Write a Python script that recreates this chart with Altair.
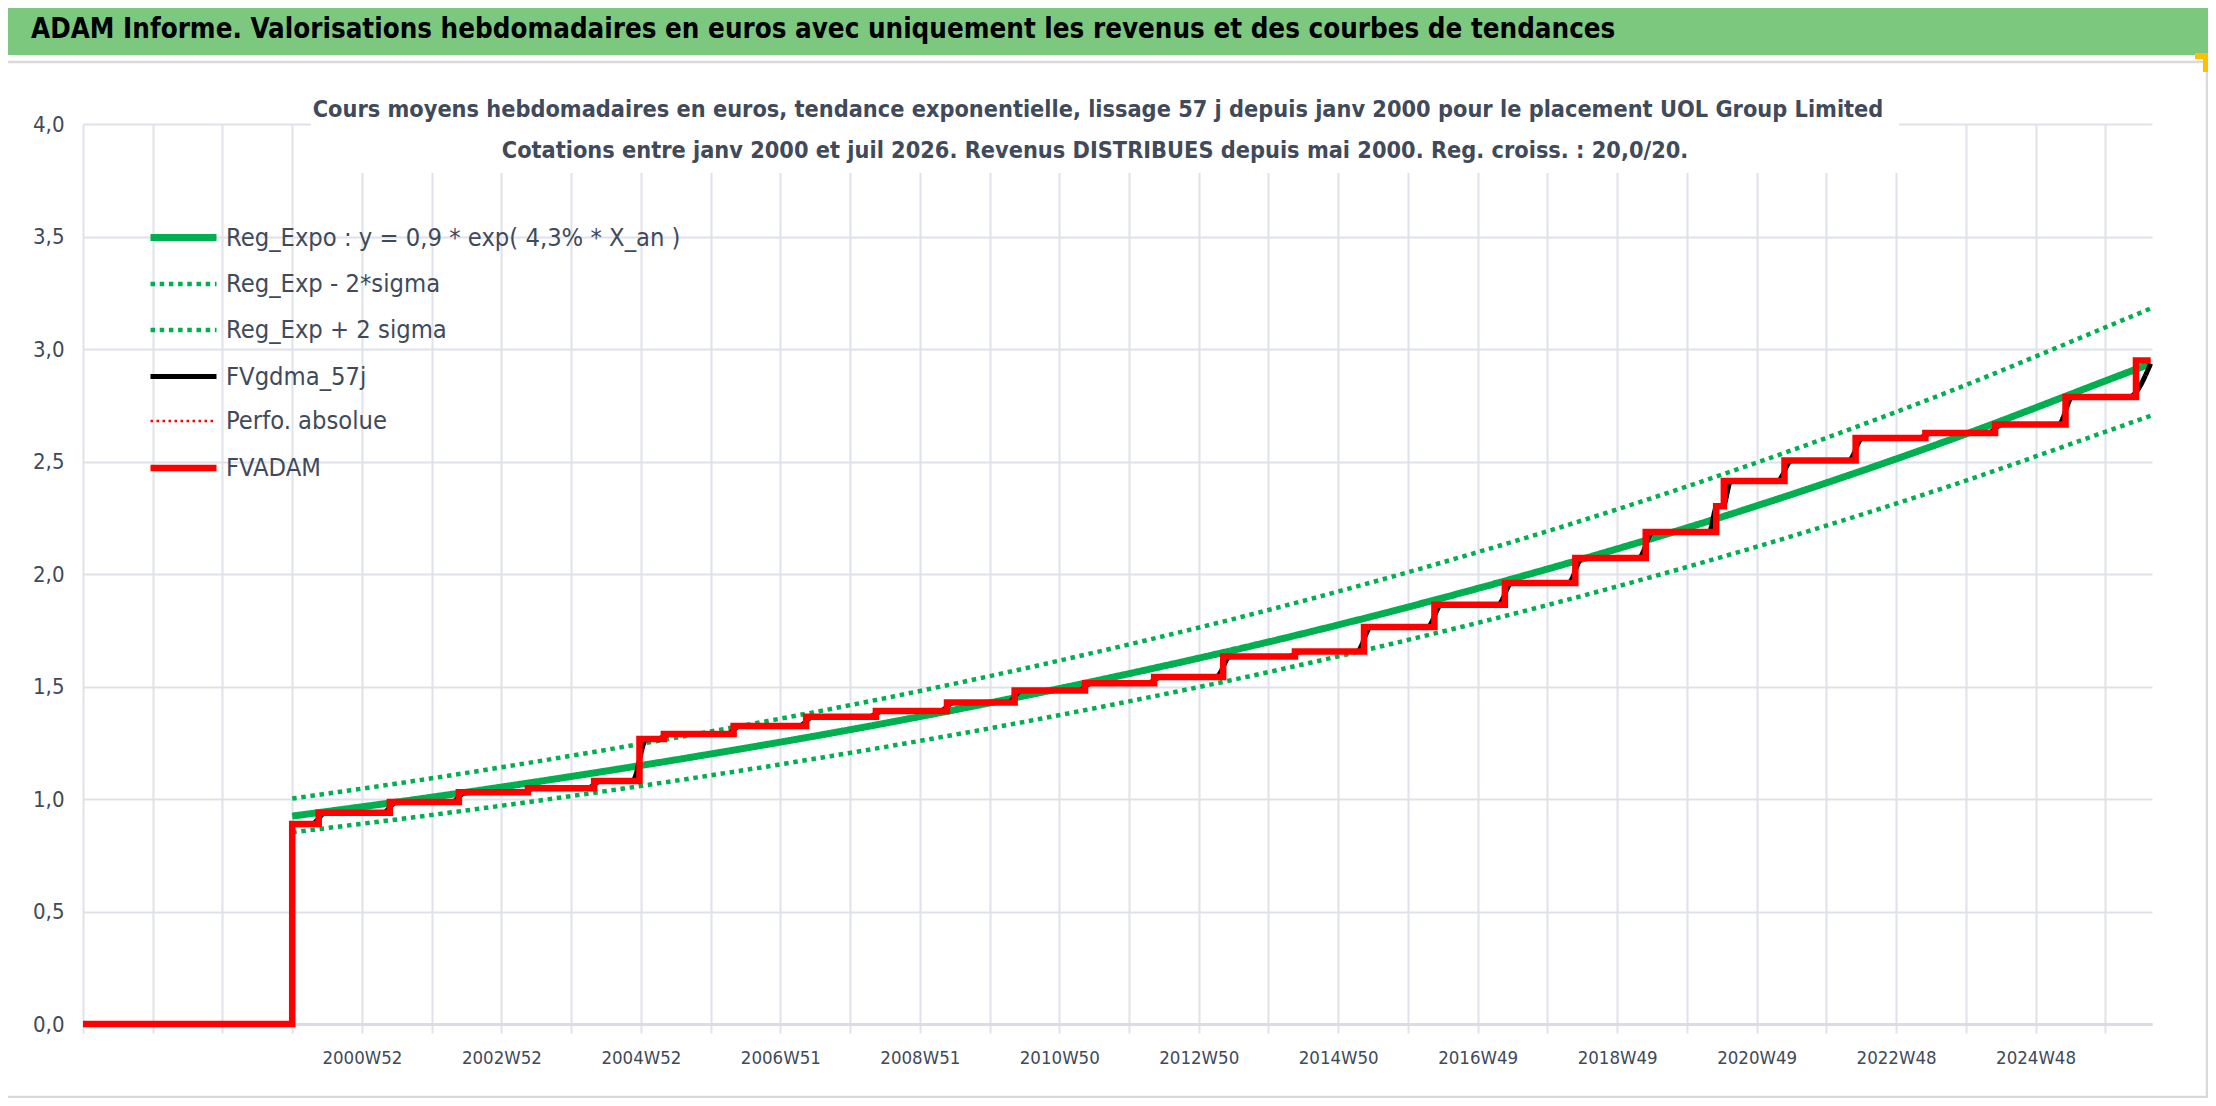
import altair as alt
import pandas as pd

# ---------------- data (x in fractional years) ----------------
step_years = [1997.0, 2000.0, 2000.38, 2001.40, 2002.39, 2003.38, 2004.33, 2004.98,
              2005.33, 2006.33, 2007.37, 2008.37, 2009.39, 2010.36, 2011.37, 2012.36,
              2013.35, 2014.38, 2015.37, 2016.38, 2017.39, 2018.40, 2019.41, 2020.42,
              2020.53, 2021.40, 2022.42, 2023.42, 2024.42, 2025.43, 2026.44]
step_levels = [0.0, 0.889, 0.939, 0.987, 1.030, 1.048, 1.080, 1.267,
               1.289, 1.325, 1.366, 1.391, 1.429, 1.482, 1.515, 1.542,
               1.633, 1.656, 1.764, 1.863, 1.960, 2.071, 2.187, 2.301,
               2.413, 2.504, 2.605, 2.627, 2.664, 2.787, 2.949]
end_year = 2026.65
smooth_end_value = 2.935

reg_years = [2000, 2002, 2004, 2006, 2008, 2010, 2012, 2014, 2016, 2018, 2020, 2022, 2024, 2026, 2026.65]
reg_vals = [0.924, 1.008, 1.100, 1.200, 1.308, 1.427, 1.557, 1.698, 1.853, 2.022, 2.205, 2.405, 2.622, 2.858, 2.935]
reg_upper = [1.002, 1.092, 1.192, 1.300, 1.417, 1.546, 1.687, 1.840, 2.008, 2.190, 2.389, 2.605, 2.840, 3.096, 3.180]
reg_lower = [0.852, 0.929, 1.013, 1.105, 1.205, 1.314, 1.434, 1.564, 1.707, 1.862, 2.031, 2.215, 2.415, 2.632, 2.703]

x_tick_years = list(range(1997, 2027))
x_label_years = [2001, 2003, 2005, 2007, 2009, 2011, 2013, 2015, 2017, 2019, 2021, 2023, 2025]
x_label_texts = ["2000W52", "2002W52", "2004W52", "2006W51", "2008W51", "2010W50", "2012W50",
                 "2014W50", "2016W49", "2018W49", "2020W49", "2022W48", "2024W48"]
y_ticks = [0, 0.5, 1.0, 1.5, 2.0, 2.5, 3.0, 3.5, 4.0]

names = ["Reg_Expo : y = 0,9 * exp( 4,3% *  X_an )", "Reg_Exp - 2*sigma", "Reg_Exp + 2 sigma",
         "FVgdma_57j", "Perfo. absolue", "FVADAM"]
colors = ["#00b050", "#00b050", "#00b050", "#000000", "#ff0000", "#ff0000"]
dashes = [[1, 0], [4.5, 4.7], [4.5, 4.7], [1, 0], [2.5, 3.5], [1, 0]]
widths = [7, 4.5, 4.5, 5, 2.5, 6.5]

header_text = "ADAM Informe. Valorisations hebdomadaires en euros avec uniquement les revenus et des courbes de tendances"
title_lines = ["Cours moyens hebdomadaires en euros, tendance exponentielle, lissage 57 j depuis janv 2000 pour le placement UOL Group Limited",
               "Cotations entre janv 2000 et juil 2026. Revenus DISTRIBUES depuis mai 2000. Reg. croiss. : 20,0/20."]

# ---------------- build table ----------------
rows = []
for t, v in zip(step_years + [end_year], step_levels + [step_levels[-1]]):
    rows.append({"x": t, "y": v, "serie": names[5]})
    rows.append({"x": t, "y": v, "serie": names[4]})
hw = 0.1
rows.append({"x": step_years[1], "y": step_levels[1], "serie": names[3]})
for i in range(2, len(step_years)):
    rows.append({"x": step_years[i] - hw, "y": step_levels[i - 1], "serie": names[3]})
    if i < len(step_years) - 1:
        rows.append({"x": step_years[i] + hw, "y": step_levels[i], "serie": names[3]})
rows.append({"x": end_year, "y": smooth_end_value, "serie": names[3]})
for t, a, lo, up in zip(reg_years, reg_vals, reg_lower, reg_upper):
    rows.append({"x": t, "y": a, "serie": names[0]})
    rows.append({"x": t, "y": lo, "serie": names[1]})
    rows.append({"x": t, "y": up, "serie": names[2]})
df = pd.DataFrame(rows)

FONT = "DejaVu Sans Condensed, Liberation Sans Narrow, sans-serif"
TXT = "#404a5a"
GRID = "#dfe2e8"

label_expr = " : ".join(f"datum.value == {y} ? '{t}'" for y, t in zip(x_label_years, x_label_texts)) + " : ''"

X = alt.X("x:Q", scale=alt.Scale(domain=[1997, 2026.67], nice=False, zero=False),
          axis=alt.Axis(values=x_tick_years, labelExpr=label_expr, title=None, grid=True,
                        gridColor=GRID, gridWidth=2, tickColor=GRID, tickWidth=2, tickSize=9,
                        domainColor="#d9dce2", domainWidth=3, labelFont=FONT, labelFontSize=18.5,
                        labelColor=TXT, labelPadding=15, labelFlush=False, labelOverlap=False))
Y = alt.Y("y:Q", scale=alt.Scale(domain=[0, 4], nice=False),
          axis=alt.Axis(values=y_ticks, labelExpr="replace(format(datum.value, '.1f'), '.', ',')",
                        title=None, grid=True, gridColor=GRID, gridWidth=2, domain=False,
                        ticks=False, tickSize=0, labelPadding=19, labelFont=FONT,
                        labelFontSize=22, labelColor=TXT))

leg = alt.Legend(orient="none", legendX=67, legendY=80, title=None, symbolType="M-1.115,0H1.115",
                 symbolSize=3505, labelFont=FONT, labelFontSize=25.3, labelColor=TXT,
                 labelLimit=2000, rowPadding=0, labelOffset=9, padding=0)
C = alt.Color("serie:N", scale=alt.Scale(domain=names, range=colors), legend=leg)
SD = alt.StrokeDash("serie:N", scale=alt.Scale(domain=names, range=dashes), legend=leg)
SW = alt.StrokeWidth("serie:N", scale=alt.Scale(type="ordinal", domain=names, range=widths), legend=leg)

def line_layer(name, interp):
    return alt.Chart(df).transform_filter(alt.datum.serie == name).mark_line(
        interpolate=interp, clip=False, strokeCap="butt").encode(
        x=X, y=Y, color=C, strokeDash=SD, strokeWidth=SW)

one = pd.DataFrame({"a": [0]})

frame = alt.Chart(one).mark_rect(fill=None, stroke="#d9d9d9", strokeWidth=2.5).encode(
    x=alt.value(-80), x2=alt.value(2124), y=alt.value(-62), y2=alt.value(973))
band = alt.Chart(one).mark_rect(fill="#7dc87f").encode(
    x=alt.value(-80), x2=alt.value(2130), y=alt.value(-120), y2=alt.value(-69))
handle1 = alt.Chart(one).mark_rect(fill="#ffc000").encode(
    x=alt.value(2112), x2=alt.value(2126), y=alt.value(-71), y2=alt.value(-65))
handle2 = alt.Chart(one).mark_rect(fill="#ffc000").encode(
    x=alt.value(2120), x2=alt.value(2126), y=alt.value(-71), y2=alt.value(-52))
title_box = alt.Chart(one).mark_rect(fill="white").encode(
    x=alt.value(228), x2=alt.value(1816), y=alt.value(-10), y2=alt.value(49))

header = alt.Chart(one).mark_text(text=header_text, font=FONT, fontSize=27.5, fontWeight="bold",
                                  color="#000000", align="left", baseline="middle").encode(
    x=alt.value(-52), y=alt.value(-94))
t1 = alt.Chart(one).mark_text(text=title_lines[0], font=FONT, fontSize=23.3, fontWeight="bold",
                              color=TXT, align="center", baseline="middle").encode(
    x=alt.value(1015), y=alt.value(-14))
t2 = alt.Chart(one).mark_text(text=title_lines[1], font=FONT, fontSize=23.3, fontWeight="bold",
                              color=TXT, align="center", baseline="middle").encode(
    x=alt.value(1012), y=alt.value(27))

chart = alt.layer(
    frame, band, handle1, handle2,
    line_layer(names[1], "monotone"),
    line_layer(names[2], "monotone"),
    line_layer(names[0], "monotone"),
    line_layer(names[3], "monotone"),
    line_layer(names[4], "step-after"),
    line_layer(names[5], "step-after"),
    title_box, header, t1, t2,
).properties(
    width=2069, height=900, autosize="none",
    padding={"left": 75, "top": 116, "right": 56, "bottom": 74},
    background="white",
).configure_view(stroke=None)

chart.save("out.html", embed_options={"renderer": "svg", "actions": False})
